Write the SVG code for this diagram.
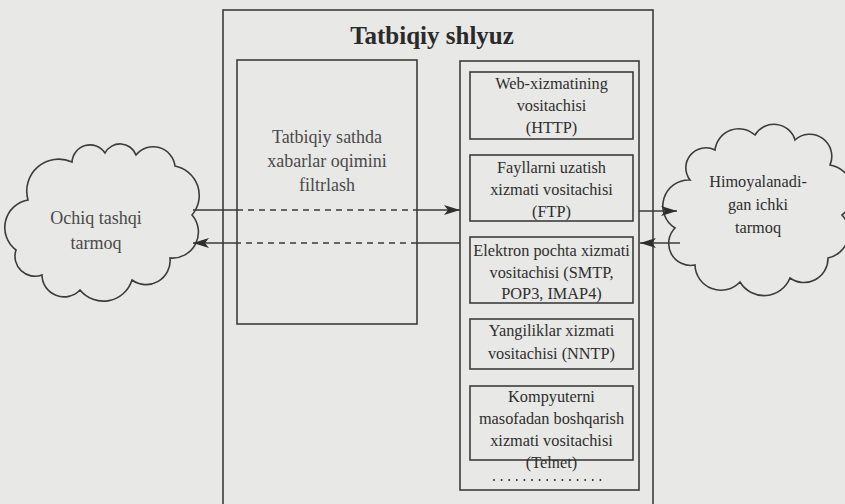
<svg xmlns="http://www.w3.org/2000/svg" width="845" height="504" viewBox="0 0 845 504">
<style>
.bx{fill:none;stroke:#3c3c3c;stroke-width:1.6}
.t{font-family:"Liberation Serif","DejaVu Serif","Times New Roman",Times,serif;fill:#2e2e2e;text-anchor:middle;font-size:16.3px}
.tl{font-family:"Liberation Serif","DejaVu Serif","Times New Roman",Times,serif;fill:#4a4a4a;text-anchor:middle;font-size:18px}
.ttl{font-family:"Liberation Serif","DejaVu Serif","Times New Roman",Times,serif;fill:#2a2a2a;text-anchor:middle;font-size:25px;font-weight:bold}
.ln{fill:none;stroke:#3a3a3a;stroke-width:1.6}
.dsh{fill:none;stroke:#3a3a3a;stroke-width:1.6;stroke-dasharray:6 5}
.dot{fill:none;stroke:#2e2e2e;stroke-width:2;stroke-linecap:round;stroke-dasharray:0 7.6}
.cl{fill:#e8e8e6;stroke:#3c3c3c;stroke-width:1.6}
</style>
<defs>
<marker id="ah" viewBox="0 0 16 10" refX="16" refY="5" markerWidth="16" markerHeight="10" markerUnits="userSpaceOnUse" orient="auto">
<path d="M0,0 L16,5 L0,10 L4,5 Z" fill="#2e2e2e"/>
</marker>
</defs>
<rect width="845" height="504" fill="#e8e8e6"/>

<g id="gateway">
<rect class="bx" x="223" y="10" width="430" height="520"/>
<text class="ttl" x="432" y="44">Tatbiqiy shlyuz</text>
</g>

<g id="filter">
<rect class="bx" x="237" y="60" width="180" height="264"/>
<text class="tl" x="327" y="143">Tatbiqiy sathda</text>
<text class="tl" x="327" y="167">xabarlar oqimini</text>
<text class="tl" x="327" y="191">filtrlash</text>
</g>

<g id="services">
<rect class="bx" x="460" y="61" width="179" height="429"/>
<path class="dot" d="M494,480 H608"/>
</g>

<g id="http">
<rect class="bx" x="470" y="72" width="163" height="67"/>
<text class="t" x="551.5" y="89">Web-xizmatining</text>
<text class="t" x="551.5" y="111">vositachisi</text>
<text class="t" x="551.5" y="133">(HTTP)</text>
</g>

<g id="ftp">
<rect class="bx" x="470" y="155" width="163" height="66"/>
<text class="t" x="551.5" y="173">Fayllarni uzatish</text>
<text class="t" x="551.5" y="195">xizmati vositachisi</text>
<text class="t" x="551.5" y="217">(FTP)</text>
</g>

<g id="mail">
<rect class="bx" x="470" y="237" width="163" height="66"/>
<text class="t" x="551.5" y="256">Elektron pochta xizmati</text>
<text class="t" x="551.5" y="278">vositachisi (SMTP,</text>
<text class="t" x="551.5" y="299">POP3, IMAP4)</text>
</g>

<g id="nntp">
<rect class="bx" x="470" y="319" width="163" height="50"/>
<text class="t" x="551.5" y="336">Yangiliklar xizmati</text>
<text class="t" x="551.5" y="359">vositachisi (NNTP)</text>
</g>

<g id="telnet">
<rect class="bx" x="470" y="386" width="163" height="74"/>
<text class="t" x="551.5" y="402">Kompyuterni</text>
<text class="t" x="551.5" y="424">masofadan boshqarish</text>
<text class="t" x="551.5" y="446">xizmati vositachisi</text>
<text class="t" x="551.5" y="468">(Telnet)</text>
</g>

<g id="external">
<path class="cl" d="M16,250 A28,28 0 0 1 28,200 A32,32 0 0 1 72,162 A18,18 0 0 1 105,153 A17,17 0 0 1 136,155 A22,22 0 0 1 175,166 A30,30 0 0 1 192,215 A26,26 0 0 1 170,258 A24,24 0 0 1 132,280 A30,30 0 0 1 80,290 A22,22 0 0 1 42,275 A20,20 0 0 1 16,250 Z"/>
<text class="tl" x="96" y="224">Ochiq tashqi</text>
<text class="tl" x="96" y="249">tarmoq</text>
</g>

<g id="internal">
<path class="cl" d="M690,180 A26,26 0 0 0 675,228 A22,22 0 0 0 695,265 A26,26 0 0 0 740,282 A28,28 0 0 0 790,278 A24,24 0 0 0 828,258 A26,26 0 0 0 842,215 A28,28 0 0 0 830,165 A22,22 0 0 0 795,140 A22,22 0 0 0 755,135 A24,24 0 0 0 715,150 A20,20 0 0 0 690,180 Z"/>
<text class="t" x="758" y="187" font-size="17">Himoyalanadi-</text>
<text class="t" x="758" y="210" font-size="17">gan ichki</text>
<text class="t" x="758" y="233" font-size="17">tarmoq</text>
</g>

<g id="connectors">
<path class="ln" d="M193,210 H237"/>
<path class="dsh" d="M237,210 H417"/>
<path class="ln" d="M417,210 H460" marker-end="url(#ah)"/>
<path class="ln" d="M460,243 H417"/>
<path class="dsh" d="M417,243 H237"/>
<path class="ln" d="M237,243 H193" marker-end="url(#ah)"/>
<path class="ln" d="M639,211 H677" marker-end="url(#ah)"/>
<path class="ln" d="M680,243 H640" marker-end="url(#ah)"/>
</g>
</svg>
